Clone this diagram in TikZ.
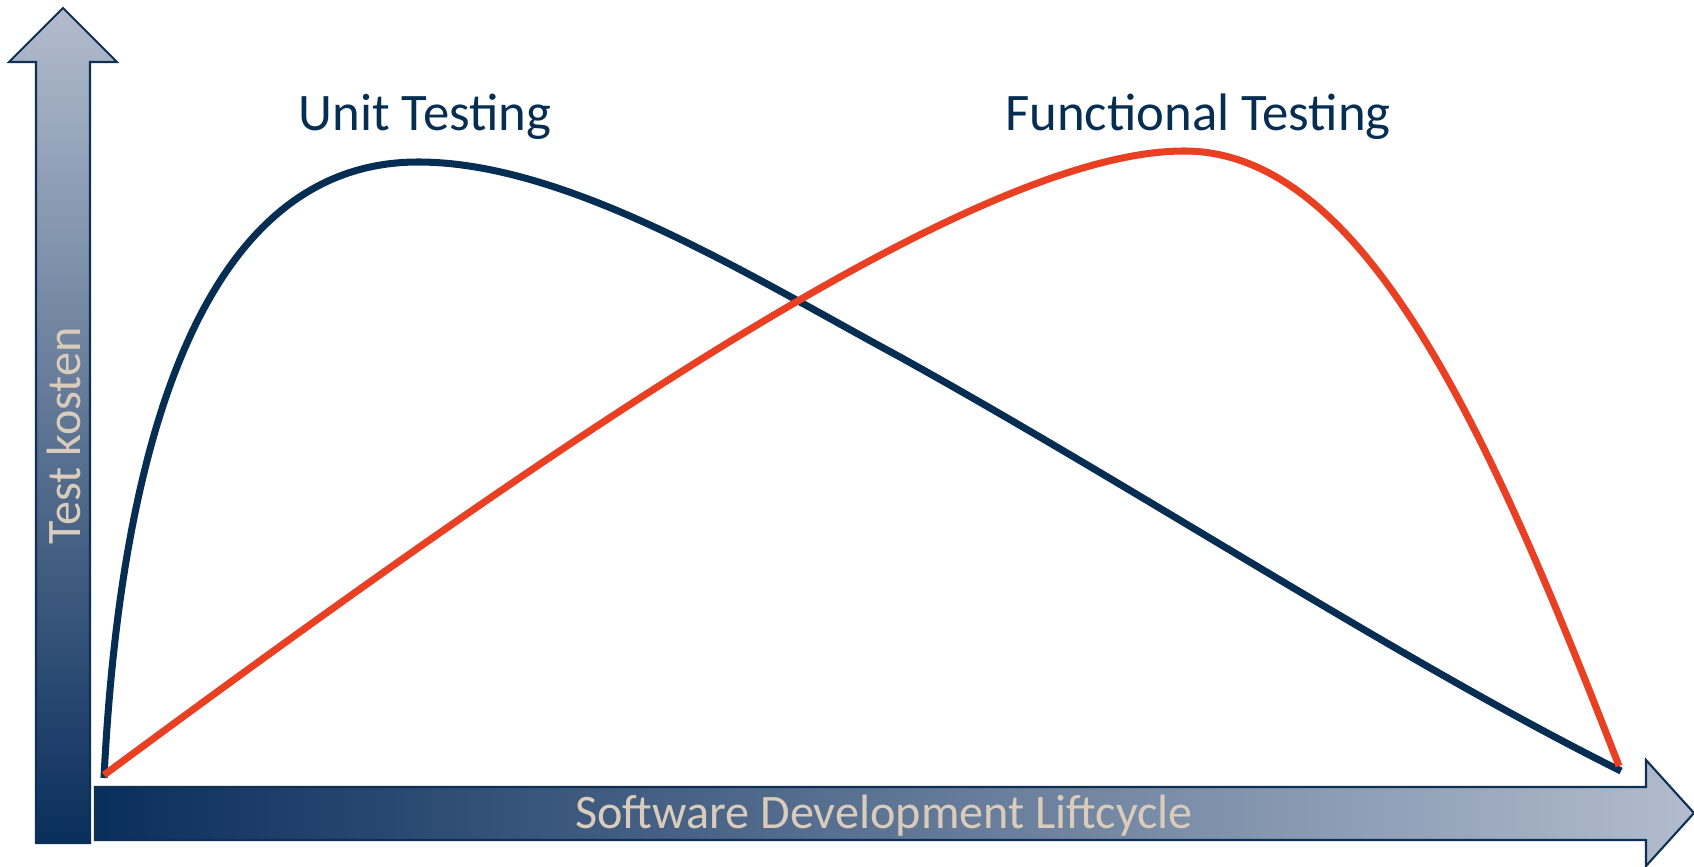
\documentclass[tikz,border=0pt]{standalone}
\usepackage{fontspec}
\setmainfont{Carlito}
\usepackage{tikz}
\usetikzlibrary{calc, positioning}
\definecolor{navy}{RGB}{6,45,82}
\definecolor{axisDark}{RGB}{10,46,92}
\definecolor{axisMid}{RGB}{100,111,140}
\definecolor{axisLight}{RGB}{178,188,205}
\definecolor{axisEdge}{RGB}{14,48,84}
\definecolor{funcRed}{RGB}{233,64,36}
\definecolor{labelBeige}{RGB}{218,204,186}
\tikzset{
    axisArrow/.style={draw=axisEdge, line width=0.6pt, line join=miter},
    costCurve/.style={line width=2pt, line join=round},
    curveTitle/.style={font=\fontsize{15}{18}\selectfont, text=navy, anchor=base, inner sep=0pt},
    axisLabel/.style={font=\fontsize{13.7}{16}\selectfont, text=labelBeige, inner sep=0pt}
}

\begin{document}
\begin{tikzpicture}[x=0.01cm, y=-0.01cm]
        \useasboundingbox (0,0) rectangle (1694,867);

        % Axes
        \path[axisArrow, top color=axisLight, middle color=axisMid, bottom color=axisDark]
            (36,843) -- (36,62) -- (9,62) -- (63,8) -- (117,62) -- (90,62) -- (90,843) -- cycle;
        \path[axisArrow, left color=axisDark, middle color=axisMid, right color=axisLight]
            (95,787) -- (1646,787) -- (1646,760) -- (1694,813) -- (1646,866) -- (1646,840) -- (95,840) -- cycle;

        % Axis labels
        \node[axisLabel, rotate=90] (costLabel) at (64,436) {Test kosten};
        \node[axisLabel] (cycleLabel) at (884,816) {Software Development Liftcycle};

        % Curve ends
        \coordinate (unitStart) at (104,778);
        \coordinate (unitTop) at (418,162);
        \coordinate (unitBend) at (900,357);
        \coordinate (unitEnd) at (1621,771);
        \coordinate (funcStart) at (104,775);
        \coordinate (funcTop) at (1184,151);
        \coordinate (funcEnd) at (1619,766);

        % Unit testing
        \draw[costCurve, navy] (unitStart) .. controls (120,450) and (200,162) .. (unitTop)
            .. controls (568,162) and (750,276) .. (unitBend)
            .. controls (1140,490) and (1400,661) .. (unitEnd);

        % Functional testing
        \draw[costCurve, funcRed] (funcStart) .. controls (584,420) and (984,151) .. (funcTop)
            .. controls (1364,151) and (1489,431) .. (funcEnd);

        % Titles
        \node[curveTitle] (unitTitle) at (425,130) {Unit Testing};
        \node[curveTitle] (funcTitle) at (1198,130) {Functional Testing};

    \end{tikzpicture}
\end{document}
